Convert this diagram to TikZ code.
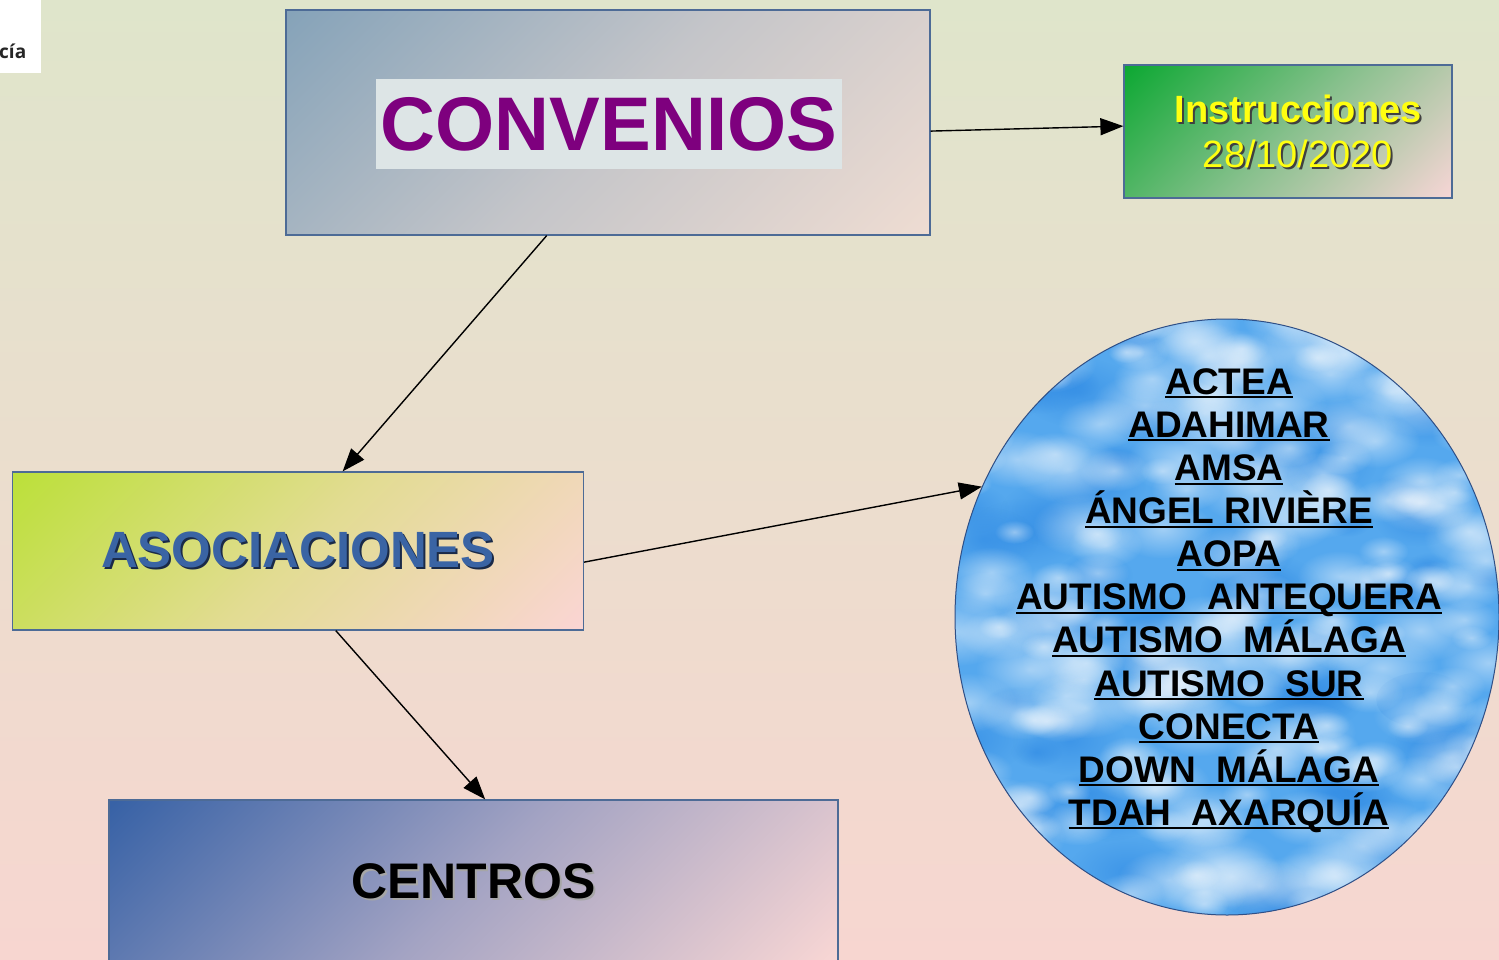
\documentclass[tikz,border=0pt]{standalone}
\usepackage{fontspec}
\setmainfont{Liberation Sans}
\newfontfamily\opensans{Open Sans}
\usetikzlibrary{arrows.meta,shapes.geometric,calc,fadings}

\definecolor{fondoA}{HTML}{DFE5CB}
\definecolor{fondoB}{HTML}{EDE0D1}
\definecolor{fondoC}{HTML}{F7D6D0}
\definecolor{bordecaja}{HTML}{4D6B96}
\definecolor{convA}{HTML}{86A3B9}
\definecolor{convB}{HTML}{C4C5C9}
\definecolor{convC}{HTML}{EEDCD2}
\definecolor{convfondo}{HTML}{DDE5E6}
\definecolor{morado}{HTML}{7E007E}
\definecolor{instrA}{HTML}{0DA833}
\definecolor{instrB}{HTML}{86C08C}
\definecolor{instrC}{HTML}{F6D5D5}
\definecolor{amarillo}{HTML}{FFFF10}
\definecolor{asocA}{HTML}{BCE03A}
\definecolor{asocB}{HTML}{E2DC92}
\definecolor{asocC}{HTML}{FAD5D3}
\definecolor{asoctexto}{HTML}{3A64A4}
\definecolor{asocsombra}{HTML}{1A2A48}
\definecolor{centA}{HTML}{3862A6}
\definecolor{centB}{HTML}{A3A3C3}
\definecolor{centC}{HTML}{F8D6D4}
\definecolor{cielo}{HTML}{55A8EE}
\definecolor{cielooscuro}{HTML}{2F8AE4}
\definecolor{bordecirc}{HTML}{2F4F86}

% degradados en diagonal (esquina superior izquierda a inferior derecha)
\pgfdeclarehorizontalshading{convsh}{100bp}{color(0bp)=(convA); color(15bp)=(convA); color(50bp)=(convB); color(85bp)=(convC); color(100bp)=(convC)}
\pgfdeclarehorizontalshading{instrsh}{100bp}{color(0bp)=(instrA); color(15bp)=(instrA); color(50bp)=(instrB); color(85bp)=(instrC); color(100bp)=(instrC)}
\pgfdeclarehorizontalshading{asocsh}{100bp}{color(0bp)=(asocA); color(15bp)=(asocA); color(50bp)=(asocB); color(85bp)=(asocC); color(100bp)=(asocC)}
\pgfdeclarehorizontalshading{centsh}{100bp}{color(0bp)=(centA); color(15bp)=(centA); color(50bp)=(centB); color(85bp)=(centC); color(100bp)=(centC)}

\tikzfading[name=nube, inner color=transparent!0, outer color=transparent!100]

% texto con sombra desplazada
\newcommand\sombra[2]{\leavevmode\rlap{\kern2pt\raisebox{-2pt}{\color{#1}#2}}#2}
% subrayado a altura fija
\newcommand\subraya[1]{\setbox0=\hbox{#1}\rlap{\rule[-4pt]{\wd0}{2pt}}\box0}

\begin{document}
\begin{tikzpicture}[x=1pt, y=-1pt,
    caja/.style={rectangle, draw=bordecaja, line width=1.2pt, inner sep=0pt, shade, shading angle=-45},
    flecha/.style={line width=1.4pt, -{Triangle[length=23pt,width=17pt]}},
    socio/.style={anchor=base, inner sep=0pt, font=\fontsize{37}{43}\selectfont\bfseries}]
  \useasboundingbox (0,0) rectangle (1499,960);
  \clip (0,0) rectangle (1499,960);

  % fondo
  \shade[top color=fondoA, middle color=fondoB, bottom color=fondoC] (0,0) rectangle (1499,960);
  \fill[white] (0,0) rectangle (41,73);
  \node[anchor=base west, inner sep=0pt, font=\opensans\fontsize{19}{22}\selectfont\bfseries, text=black!85] (pie) at (-1,59) {cía};

  % cajas
  \node[caja, shading=convsh, minimum width=644pt, minimum height=225pt] (conv) at (608,122.5) {};
  \node[fill=convfondo, minimum width=466pt, minimum height=90pt, inner sep=0pt,
        text=morado, font=\fontsize{76}{80}\selectfont\bfseries] (convtxt) at (609,124) {CONVENIOS};

  \node[caja, shading=instrsh, minimum width=328pt, minimum height=133pt] (instr) at (1288,131.5) {};
  \node[align=center, inner sep=0pt, text=amarillo, font=\fontsize{38}{45}\selectfont] (instrtxt) at (1298,132)
    {{\bfseries\sombra{black!75}{Instrucciones}}\\\sombra{black!75}{28/10/2020}};

  \node[caja, shading=asocsh, minimum width=571pt, minimum height=158pt,
        text=asoctexto, font=\fontsize{51}{56}\selectfont\bfseries] (asoc) at (298,551)
    {\sombra{asocsombra}{ASOCIACIONES}};

  \node[caja, shading=centsh, minimum width=729pt, minimum height=164pt,
        text=black, font=\fontsize{50}{55}\selectfont\bfseries] (centros) at (473.5,882)
    {\sombra{black!35}{CENTROS}};

  % circulo con nubes
  \node[ellipse, draw=bordecirc, line width=1pt, fill=cielo, minimum width=544pt, minimum height=596pt, inner sep=0pt,
        path picture={
          \pgfmathsetseed{17}
          \foreach \k in {1,...,80}{
            \pgfmathsetmacro\px{rnd*560}\pgfmathsetmacro\py{rnd*610}\pgfmathsetmacro\pr{20+rnd*40}
            \fill[cielooscuro, fill opacity=0.6, path fading=nube]
              ([xshift=\px pt, yshift=\py pt]path picture bounding box.south west) ellipse [x radius=\pr pt, y radius=0.6*\pr pt];
          }
          \foreach \k in {1,...,220}{
            \pgfmathsetmacro\px{rnd*560}\pgfmathsetmacro\py{rnd*610}\pgfmathsetmacro\pr{18+rnd*40}
            \fill[white, fill opacity=0.45, path fading=nube]
              ([xshift=\px pt, yshift=\py pt]path picture bounding box.south west) ellipse [x radius=\pr pt, y radius=0.6*\pr pt];
          }
        }] (lista) at (1227,617) {};

  \foreach \nombre [count=\i] in {ACTEA, ADAHIMAR, AMSA, ÁNGEL RIVIÈRE, AOPA, AUTISMO\ \ ANTEQUERA,
      AUTISMO\ \ MÁLAGA, AUTISMO\ \ SUR, CONECTA, DOWN\ \ MÁLAGA, TDAH\ \ AXARQUÍA}
    \node[socio] (socio\i) at (1229,{351.2+43.1*\i}) {\subraya{\nombre}};

  % flechas
  \draw[flecha] ($(conv.north east)!0.538!(conv.south east)$) -- ($(instr.north west)!0.46!(instr.south west)$);
  \draw[flecha] ($(conv.south west)!0.405!(conv.south east)$) -- ($(asoc.north west)!0.578!(asoc.north east)$);
  \draw[flecha] ($(asoc.north east)!0.57!(asoc.south east)$) -- (lista.152);
  \draw[flecha] ($(asoc.south west)!0.566!(asoc.south east)$) -- ($(centros.north west)!0.516!(centros.north east)$);
\end{tikzpicture}
\end{document}
